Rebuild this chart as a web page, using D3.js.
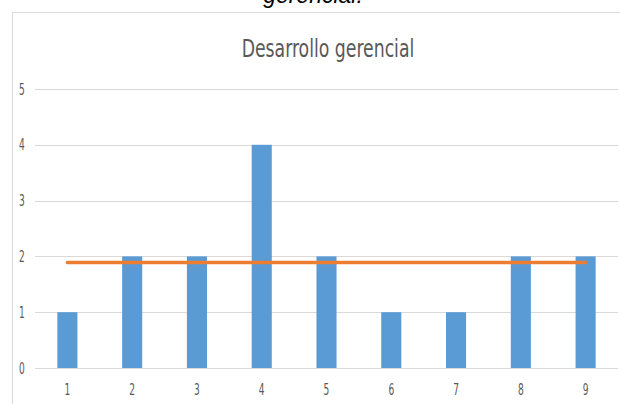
<!DOCTYPE html>
<html>
<head>
<meta charset="utf-8">
<script src="https://cdn.jsdelivr.net/npm/d3@7"></script>
<style>
  body { margin: 0; background: #fff; }
  svg { display: block; }
</style>
</head>
<body>
<div id="chart"></div>
<script>
// chart data
var categories = ["1", "2", "3", "4", "5", "6", "7", "8", "9"];
var values = [1, 2, 2, 4, 2, 1, 1, 2, 2];
var promedio = [1.89, 1.89, 1.89, 1.89, 1.89, 1.89, 1.89, 1.89, 1.89];
var yTicks = [0, 1, 2, 3, 4, 5];

var width = 620, height = 404;
var margin = {left: 35, right: 2, top: 89, bottom: 36};
var narrow = "DejaVu Sans Condensed, DejaVu Sans, sans-serif";

var svg = d3.select("#chart").append("svg")
    .attr("width", width)
    .attr("height", height);

// caption cut off at the top of the page
svg.append("text")
    .attr("x", 313)
    .attr("y", 3)
    .attr("text-anchor", "middle")
    .attr("font-family", "Liberation Sans, Arial, sans-serif")
    .attr("font-style", "italic")
    .attr("font-size", 23)
    .attr("fill", "#000")
    .text("gerencial.");

// chart frame
svg.append("rect")
    .attr("x", 12.5)
    .attr("y", 12.5)
    .attr("width", 640)
    .attr("height", 420)
    .attr("fill", "none")
    .attr("stroke", "#d9d9d9");

// title (squeezed sideways like the source picture)
svg.append("text")
    .attr("transform", "translate(328,57) scale(0.8,1)")
    .attr("text-anchor", "middle")
    .attr("font-family", narrow)
    .attr("font-size", 24)
    .attr("fill", "#595959")
    .text("Desarrollo gerencial");

var x = d3.scaleBand()
    .domain(categories)
    .range([margin.left, width - margin.right])
    .paddingInner(0.69)
    .paddingOuter(0.345);

var y = d3.scaleLinear()
    .domain([0, 5])
    .range([height - margin.bottom, margin.top]);

// gridlines
svg.append("g")
    .selectAll("line")
    .data(yTicks)
    .enter()
    .append("line")
    .attr("x1", margin.left)
    .attr("x2", width - margin.right)
    .attr("y1", function(d) { return Math.round(y(d)) + 0.5; })
    .attr("y2", function(d) { return Math.round(y(d)) + 0.5; })
    .attr("stroke", "#d9d9d9")
    .attr("stroke-width", 1.2);

// y labels
svg.append("g")
    .selectAll("text")
    .data(yTicks)
    .enter()
    .append("text")
    .attr("transform", function(d) { return "translate(22," + (y(d) + 5.5) + ") scale(0.65,1)"; })
    .attr("text-anchor", "middle")
    .attr("font-family", narrow)
    .attr("font-size", 15.5)
    .attr("fill", "#595959")
    .text(function(d) { return d; });

// bars
svg.append("g")
    .selectAll("rect")
    .data(values)
    .enter()
    .append("rect")
    .attr("x", function(d, i) { return x(categories[i]); })
    .attr("y", function(d) { return y(d); })
    .attr("width", x.bandwidth())
    .attr("height", function(d) { return y(0) - y(d); })
    .attr("fill", "#5b9bd5");

// x labels
svg.append("g")
    .selectAll("text")
    .data(categories)
    .enter()
    .append("text")
    .attr("transform", function(d) { return "translate(" + (x(d) + x.bandwidth() / 2) + ",395) scale(0.65,1)"; })
    .attr("text-anchor", "middle")
    .attr("font-family", narrow)
    .attr("font-size", 15.5)
    .attr("fill", "#595959")
    .text(function(d) { return d; });

// average line
var line = d3.line()
    .x(function(d, i) { return x(categories[i]) + x.bandwidth() / 2; })
    .y(function(d) { return y(d); });

svg.append("path")
    .datum(promedio)
    .attr("d", line)
    .attr("fill", "none")
    .attr("stroke", "#ed7d31")
    .attr("stroke-width", 3.5)
    .attr("stroke-linecap", "round");
</script>
</body>
</html>
